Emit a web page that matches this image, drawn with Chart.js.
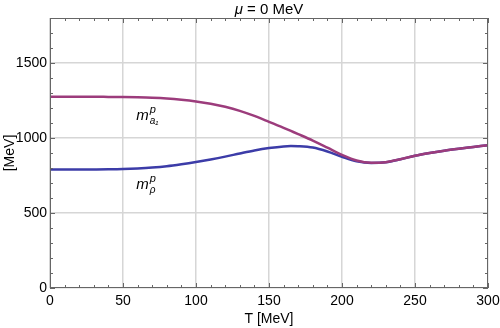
<!DOCTYPE html>
<html>
<head>
<meta charset="utf-8">
<script src="https://cdn.jsdelivr.net/npm/chart.js@4"></script>
<style>
  html, body { margin: 0; padding: 0; background: #fff; }
  #wrap { width: 500px; height: 328px; }
</style>
</head>
<body>
<div id="wrap"><canvas id="chart"></canvas></div>
<script>
    "use strict";

    // Temperature grid (MeV)
    var temps = [0, 10, 20, 30, 40, 50, 60, 70, 80, 90, 100, 110, 120, 130, 140, 150, 160, 165, 170, 180, 190, 200, 210, 220, 230, 240, 250, 260, 270, 280, 290, 300];
    // rho mass
    var rhoMass = [790, 790, 790, 790, 791, 793, 797, 803, 812, 825, 840, 857, 876, 897, 917, 933, 944, 946, 945, 936, 910, 875, 845, 833, 838, 858, 882, 900, 915, 928, 940, 952];
    // a1 mass
    var a1Mass = [1275, 1275, 1275, 1275, 1274, 1273, 1271, 1268, 1263, 1255, 1244, 1229, 1208, 1181, 1147, 1108, 1068, 1047, 1026, 983, 936, 888, 850, 835, 839, 858, 882, 900, 915, 928, 940, 952];

    var xTicks = [0, 50, 100, 150, 200, 250, 300];
    var yTicks = [0, 500, 1000, 1500];

    // curve labels: [T, value]
    var a1LabelPos = [59, 1120];
    var rhoLabelPos = [59, 660];

    function toPoints(ys) {
        return temps.map(function (t, i) { return { x: t, y: ys[i] }; });
    }

    var FONT = "'Liberation Sans', Arial, sans-serif";

    // frame, inner ticks, title and curve labels
    var decor = {
        id: 'decor',
        afterDraw: function (chart) {
            var ctx = chart.ctx;
            var a = chart.chartArea;
            var xs = chart.scales.x, ys = chart.scales.y;
            ctx.save();
            ctx.strokeStyle = '#666';
            ctx.lineWidth = 1;
            ctx.strokeRect(a.left + 0.5, a.top + 0.5, a.right - a.left - 1, a.bottom - a.top - 1);
            ctx.beginPath();
            for (var t = 0; t <= 300; t += 10) {
                var px = Math.round(xs.getPixelForValue(t)) + 0.5;
                var len = (t % 50 === 0) ? 5 : 3;
                ctx.moveTo(px, a.bottom); ctx.lineTo(px, a.bottom - len);
                ctx.moveTo(px, a.top); ctx.lineTo(px, a.top + len);
            }
            for (var v = 0; v <= 1800; v += 100) {
                var py = Math.round(ys.getPixelForValue(v)) + 0.5;
                var l2 = (v % 500 === 0) ? 5 : 3;
                ctx.moveTo(a.left, py); ctx.lineTo(a.left + l2, py);
                ctx.moveTo(a.right, py); ctx.lineTo(a.right - l2, py);
            }
            ctx.stroke();

            // title
            ctx.fillStyle = '#000';
            ctx.textBaseline = 'alphabetic';
            var t1 = '\u03bc', t2 = ' = 0 MeV';
            ctx.font = '15px ' + FONT;
            var w2 = ctx.measureText(t2).width;
            ctx.font = 'italic 15px ' + FONT;
            var w1 = ctx.measureText(t1).width;
            var cx = (a.left + a.right) / 2 - (w1 + w2) / 2;
            ctx.textAlign = 'left';
            ctx.fillText(t1, cx, 14);
            ctx.font = '15px ' + FONT;
            ctx.fillText(t2, cx + w1, 14);

            // axis titles
            ctx.font = '14px ' + FONT;
            ctx.textAlign = 'center';
            ctx.fillText('T [MeV]', (a.left + a.right) / 2, 323);
            ctx.save();
            ctx.translate(14, (a.top + a.bottom) / 2);
            ctx.rotate(-Math.PI / 2);
            ctx.fillText('[MeV]', 0, 0);
            ctx.restore();

            // curve labels
            function massLabel(pos, sub) {
                var lx = xs.getPixelForValue(pos[0]);
                var ly = ys.getPixelForValue(pos[1]);
                ctx.textAlign = 'left';
                ctx.font = 'italic 15px ' + FONT;
                ctx.fillText('m', lx, ly);
                var mw = ctx.measureText('m').width;
                ctx.font = 'italic 11px ' + FONT;
                ctx.fillText('p', lx + mw + 1, ly - 7);
                ctx.font = 'italic 10px ' + FONT;
                ctx.fillText(sub, lx + mw + 1, ly + 4);
            }
            massLabel(a1LabelPos, 'a\u2081');
            massLabel(rhoLabelPos, '\u03c1');
            ctx.restore();
        }
    };

    var ctx1 = document.getElementById('chart').getContext('2d');
    var myChart = new Chart(ctx1, {
        type: 'line',
        data: {
            datasets: [{
                label: 'a1',
                data: toPoints(a1Mass),
                borderColor: '#9c3c7c',
                borderWidth: 2.5,
                pointRadius: 0,
                cubicInterpolationMode: 'monotone'
            }, {
                label: 'rho',
                data: toPoints(rhoMass),
                borderColor: '#3c3ca8',
                borderWidth: 2.5,
                pointRadius: 0,
                cubicInterpolationMode: 'monotone'
            }]
        },
        options: {
            responsive: true,
            maintainAspectRatio: false,
            animation: false,
            layout: { padding: { top: 18, right: 0, bottom: 0, left: 0 } },
            plugins: { legend: { display: false }, tooltip: { enabled: false } },
            scales: {
                x: {
                    type: 'linear',
                    min: 0, max: 300,
                    afterBuildTicks: function (s) {
                        s.ticks = xTicks.map(function (v) { return { value: v }; });
                    },
                    afterFit: function (s) { s.height = 40; s.paddingRight = 12; },
                    grid: { color: '#d6d6d6', lineWidth: 1.5, drawTicks: false },
                    border: { display: false },
                    ticks: {
                        padding: 5,
                        color: '#000',
                        maxRotation: 0,
                        font: { family: FONT, size: 14 },
                        callback: function (v) { return String(v); }
                    }
                },
                y: {
                    min: 0, max: 1800,
                    afterBuildTicks: function (s) {
                        s.ticks = yTicks.map(function (v) { return { value: v }; });
                    },
                    afterFit: function (s) { s.width = 50; },
                    grid: { color: '#d6d6d6', lineWidth: 1.5, drawTicks: false },
                    border: { display: false },
                    ticks: {
                        padding: 3,
                        color: '#000',
                        font: { family: FONT, size: 14 },
                        callback: function (v) { return String(v); }
                    }
                }
            }
        },
        plugins: [decor]
    });
</script>
</body>
</html>
